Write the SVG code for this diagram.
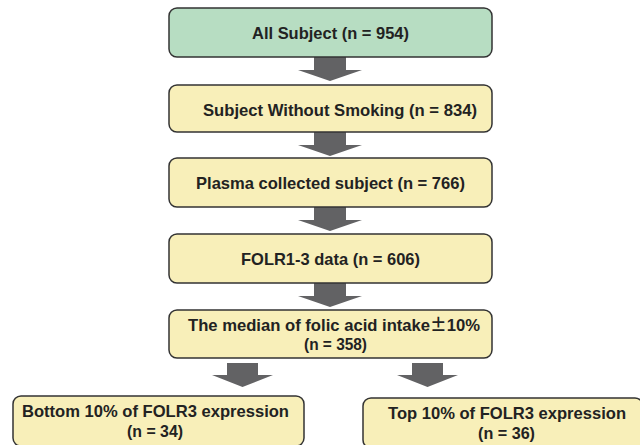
<svg xmlns="http://www.w3.org/2000/svg" width="640" height="445" viewBox="0 0 640 445">
<style>
.box{stroke:#333;stroke-width:1.5}
.g{fill:#b7ddc2}
.y{fill:#f8efb9}
.t{font-family:"Liberation Sans",Arial,sans-serif;font-weight:bold;font-size:16.5px;fill:#222;text-anchor:middle}
.cjk{font-family:"Noto Sans CJK SC","Liberation Sans",sans-serif;font-weight:bold}
.a{fill:#626264}
</style>
<rect width="640" height="445" fill="#fff"/>
<g id="connectors">
<polygon class="a" points="314,57 346,57 346,70 362,70 330,81 298,70 314,70"/>
<polygon class="a" points="314,132 346,132 346,145 362,145 330,156 298,145 314,145"/>
<polygon class="a" points="314,207 346,207 346,220 362,220 330,231 298,220 314,220"/>
<polygon class="a" points="314,283 346,283 346,296 362,296 330,307 298,296 314,296"/>
<polygon class="a" points="227,363 258,363 258,375 273,375 242.5,387 212,375 227,375"/>
<polygon class="a" points="412,363 443,363 443,375 458,375 427.5,387 397,375 412,375"/>
</g>
<g id="n1"><rect class="box g" x="169" y="8" width="323" height="49" rx="8"/><text class="t" x="330.5" y="39" textLength="157" lengthAdjust="spacingAndGlyphs">All Subject (n = 954)</text></g>
<g id="n2"><rect class="box y" x="169" y="85" width="323" height="47" rx="8"/><text class="t" x="340" y="116" textLength="274" lengthAdjust="spacingAndGlyphs">Subject Without Smoking (n = 834)</text></g>
<g id="n3"><rect class="box y" x="169" y="158" width="323" height="49" rx="8"/><text class="t" x="330.5" y="189" textLength="269" lengthAdjust="spacingAndGlyphs">Plasma collected subject (n = 766)</text></g>
<g id="n4"><rect class="box y" x="169" y="234" width="323" height="49" rx="8"/><text class="t" x="330.5" y="265" textLength="179" lengthAdjust="spacingAndGlyphs">FOLR1-3 data (n = 606)</text></g>
<g id="n5"><rect class="box y" x="169" y="310" width="323" height="48" rx="8"/><text class="t" x="334" y="331" textLength="292" lengthAdjust="spacingAndGlyphs">The median of folic acid intake<tspan class="cjk">±</tspan>10%</text><text class="t" x="335.5" y="350" textLength="63" lengthAdjust="spacingAndGlyphs">(n = 358)</text></g>
<g id="n6"><rect class="box y" x="13" y="396" width="291" height="50" rx="8"/><text class="t" x="155.5" y="417" textLength="267" lengthAdjust="spacingAndGlyphs">Bottom 10% of FOLR3 expression</text><text class="t" x="155" y="437" textLength="56" lengthAdjust="spacingAndGlyphs">(n = 34)</text></g>
<g id="n7"><rect class="box y" x="363" y="398" width="280" height="50" rx="8"/><text class="t" x="507" y="419" textLength="238" lengthAdjust="spacingAndGlyphs">Top 10% of FOLR3 expression</text><text class="t" x="506.5" y="439" textLength="57" lengthAdjust="spacingAndGlyphs">(n = 36)</text></g>
</svg>
